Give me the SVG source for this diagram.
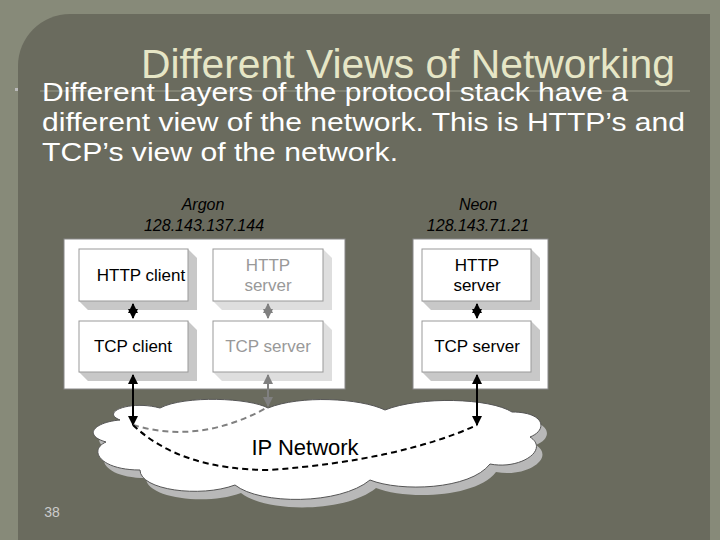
<svg xmlns="http://www.w3.org/2000/svg" width="720" height="540" viewBox="0 0 720 540">
<defs>
<style>
.box{fill:#fff;stroke:#999;stroke-width:1}
.sh{fill:#c8c8c8}
.t{font-family:"Liberation Sans",Arial,sans-serif;font-size:17px;text-anchor:middle}
.lbl{font-family:"Liberation Sans",Arial,sans-serif;font-size:16px;font-style:italic;fill:#000;text-anchor:middle}
</style>
<marker id="ab" viewBox="0 0 10 10" refX="9" refY="5" markerWidth="5" markerHeight="5" orient="auto-start-reverse"><path d="M0,0L10,5L0,10z" fill="#000"/></marker>
<marker id="ag" viewBox="0 0 10 10" refX="9" refY="5" markerWidth="5" markerHeight="5" orient="auto-start-reverse"><path d="M0,0L10,5L0,10z" fill="#808080"/></marker>
</defs>
<rect width="720" height="540" fill="#878a79"/>
<path d="M70,14H710V540H18V66A52,52 0 0 1 70,14Z" fill="#6a6b5e"/>
<line x1="40" y1="91" x2="690" y2="91" stroke="#9a9c8a" stroke-width="1"/>
<text x="408" y="78" font-family="Liberation Sans Narrow,Liberation Sans,Arial,sans-serif" font-size="40" fill="#e6e6c6" text-anchor="middle" textLength="534" lengthAdjust="spacingAndGlyphs">Different Views of Networking</text>
<rect x="15" y="88" width="3" height="3" fill="#bbb"/>
<g font-family="Liberation Sans,Arial,sans-serif" font-size="25" fill="#fff">
<text x="42" y="101" textLength="586" lengthAdjust="spacingAndGlyphs">Different Layers of the protocol stack have a</text>
<text x="42" y="131" textLength="643" lengthAdjust="spacingAndGlyphs">different view of the network. This is HTTP’s and</text>
<text x="42" y="161" textLength="356" lengthAdjust="spacingAndGlyphs">TCP’s view of the network.</text>
</g>
<text class="lbl" x="203" y="210">Argon</text>
<text class="lbl" x="204" y="231">128.143.137.144</text>
<text class="lbl" x="478" y="210">Neon</text>
<text class="lbl" x="478" y="231">128.143.71.21</text>
<g id="argon"><rect x="64" y="239" width="281" height="150" fill="#fff" stroke="#888"/></g>
<g id="neon"><rect x="413" y="239" width="135" height="150" fill="#fff" stroke="#888"/></g>
<g id="cloud">
<path d="M120,420C100,412 130,400 160,408C185,395 250,398 268,408C300,395 360,398 385,410C420,396 490,398 512,412C545,412 548,430 530,437C550,450 520,470 490,464C470,490 400,492 370,480C340,505 260,505 235,485C200,498 140,490 140,470C100,470 88,450 106,442C82,435 95,422 120,420Z" fill="#b8b8b8" transform="translate(6,8)"/>
<path d="M120,420C100,412 130,400 160,408C185,395 250,398 268,408C300,395 360,398 385,410C420,396 490,398 512,412C545,412 548,430 530,437C550,450 520,470 490,464C470,490 400,492 370,480C340,505 260,505 235,485C200,498 140,490 140,470C100,470 88,450 106,442C82,435 95,422 120,420Z" fill="#fff" stroke="#555"/>
<text x="305" y="455" font-family="Liberation Sans,Arial,sans-serif" font-size="22" text-anchor="middle">IP Network</text>
</g>
<g id="httpclient"><path d="M188,249l9,9v52h-9zM79,301h109l9,9h-109z" class="sh"/><rect class="box" x="79" y="249" width="109" height="52"/><text class="t" x="141" y="281">HTTP client</text></g>
<g id="tcpclient"><path d="M188,321l9,9v51h-9zM79,372h109l9,9h-109z" class="sh"/><rect class="box" x="79" y="321" width="109" height="51"/><text class="t" x="133" y="352">TCP client</text></g>
<g id="httpserverA"><path d="M323,249l9,9v52h-9zM213,301h110l9,9h-110z" class="sh" opacity="0.6"/><rect class="box" x="213" y="249" width="110" height="52" stroke="#bbb"/><text class="t" x="268" y="271" fill="#999">HTTP</text><text class="t" x="268" y="291" fill="#999">server</text></g>
<g id="tcpserverA"><path d="M323,321l9,9v51h-9zM213,372h110l9,9h-110z" class="sh" opacity="0.6"/><rect class="box" x="213" y="321" width="110" height="51" stroke="#bbb"/><text class="t" x="268" y="352" fill="#999">TCP server</text></g>
<g id="httpserverN"><path d="M531,249l9,9v52h-9zM422,301h109l9,9h-109z" class="sh"/><rect class="box" x="422" y="249" width="109" height="52"/><text class="t" x="477" y="271">HTTP</text><text class="t" x="477" y="291">server</text></g>
<g id="tcpserverN"><path d="M531,321l9,9v51h-9zM422,372h109l9,9h-109z" class="sh"/><rect class="box" x="422" y="321" width="109" height="51"/><text class="t" x="477" y="352">TCP server</text></g>
<g id="connectors" fill="none" stroke-width="2">
<line x1="133" y1="304" x2="133" y2="318" stroke="#000" marker-start="url(#ab)" marker-end="url(#ab)"/>
<line x1="268" y1="304" x2="268" y2="318" stroke="#808080" marker-start="url(#ag)" marker-end="url(#ag)"/>
<line x1="477" y1="304" x2="477" y2="318" stroke="#000" marker-start="url(#ab)" marker-end="url(#ab)"/>
<line x1="133" y1="375" x2="133" y2="425" stroke="#000" marker-start="url(#ab)" marker-end="url(#ab)"/>
<line x1="268" y1="375" x2="268" y2="406" stroke="#808080" marker-start="url(#ag)" marker-end="url(#ag)"/>
<line x1="477" y1="375" x2="477" y2="425" stroke="#000" marker-start="url(#ab)" marker-end="url(#ab)"/>
<path d="M133,425Q200,445 268,407" stroke="#808080" stroke-dasharray="6,4"/>
<path d="M133,425Q180,470 270,470Q400,460 477,425" stroke="#000" stroke-dasharray="6,4"/>
</g>
<text x="52" y="517" font-family="Liberation Sans,Arial,sans-serif" font-size="14" fill="#ccc" text-anchor="middle">38</text>
</svg>
